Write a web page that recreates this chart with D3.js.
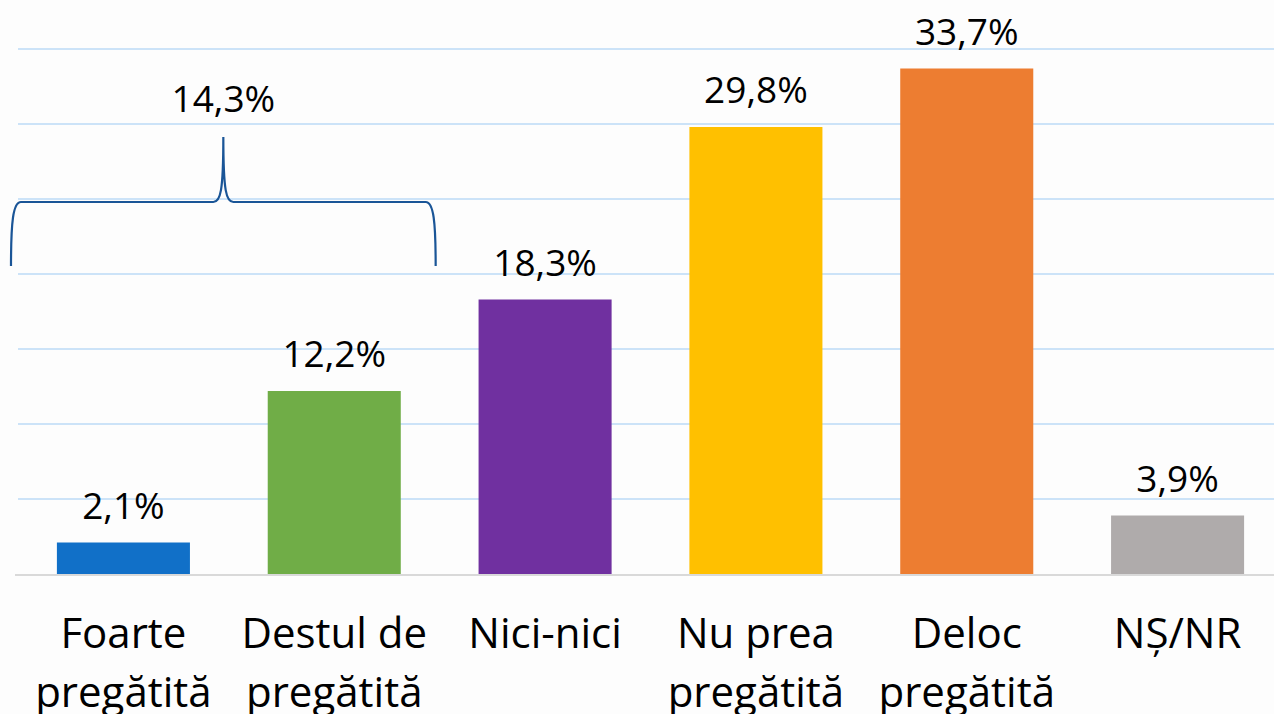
<!DOCTYPE html>
<html><head><meta charset="utf-8">
<script src="https://cdn.jsdelivr.net/npm/d3@7"></script>
<style>
html,body{margin:0;padding:0;background:#fdfdfd;overflow:hidden;}
svg{display:block;}
</style></head>
<body><svg id="c" width="1274" height="714"></svg>
<script>
const categories = [["Foarte","pregătită"],["Destul de","pregătită"],["Nici-nici"],["Nu prea","pregătită"],["Deloc","pregătită"],["NȘ/NR"]];
const values = [2.1, 12.2, 18.3, 29.8, 33.7, 3.9];
const colors = ["#1170c8","#70ad47","#7030a0","#ffc000","#ed7d31","#afabab"];
const gridTicks = [5,10,15,20,25,30,35];
const bracketLabel = "14,3%";
const fmt = v => v.toFixed(1).replace(".", ",") + "%";

const svg = d3.select("#c");
const keys = categories.map((c,i)=>i);
const x = d3.scaleBand().domain(keys).range([18, 1283]).paddingInner(0.369).paddingOuter(0.1845);
const y = d3.scaleLinear().domain([0, 35]).range([574, 49]);

// gridlines
svg.append("g").selectAll("line").data(gridTicks).join("line")
  .attr("x1", 18).attr("x2", 1274)
  .attr("y1", d=>y(d)).attr("y2", d=>y(d))
  .attr("stroke", "#cce3f8").attr("stroke-width", 2);

// bars
svg.append("g").selectAll("rect").data(values).join("rect")
  .attr("x", (d,i)=>x(i)).attr("width", x.bandwidth())
  .attr("y", d=>y(d)).attr("height", d=>y(0)-y(d))
  .attr("fill", (d,i)=>colors[i]);

// baseline
svg.append("line").attr("x1", 15).attr("x2", 1274).attr("y1", y(0)+1).attr("y2", y(0)+1)
  .attr("stroke", "#d9d9d9").attr("stroke-width", 2);

// value labels
svg.append("g").selectAll("text").data(values).join("text")
  .attr("x", (d,i)=>x(i)+x.bandwidth()/2).attr("y", d=>y(d)-24)
  .attr("text-anchor", "middle")
  .attr("font-family", "'Open Sans', sans-serif").attr("font-size", 37)
  .attr("fill", "#000").text(d=>fmt(d));

// category labels
const cl = svg.append("g").selectAll("text").data(categories).join("text")
  .attr("x", (d,i)=>x(i)+x.bandwidth()/2).attr("y", 648)
  .attr("text-anchor", "middle")
  .attr("font-family", "'Open Sans', sans-serif").attr("font-size", 42)
  .attr("fill", "#000");
cl.each(function(d,i){
  const t = d3.select(this);
  d.forEach((line,j)=>{
    t.append("tspan").attr("x", x(i)+x.bandwidth()/2).attr("dy", j===0?0:59).text(line);
  });
});

// bracket over first two categories
const bl = x(0) - (x.step()-x.bandwidth())/2 - 7;
const br = x(1) + x.bandwidth() + (x.step()-x.bandwidth())/2 - 4;
const bm = (bl + br)/2;
const yb = 266, yh = 202, yt = 137;
const p = d3.path();
p.moveTo(bl, yb);
p.bezierCurveTo(bl, yh+20, bl+2, yh, bl+10, yh);
p.lineTo(bm-10, yh);
p.bezierCurveTo(bm-3, yh, bm, yh-10, bm, yt);
p.bezierCurveTo(bm, yh-10, bm+3, yh, bm+10, yh);
p.lineTo(br-10, yh);
p.bezierCurveTo(br-2, yh, br, yh+20, br, yb);
svg.append("path").attr("d", p.toString()).attr("fill", "none")
  .attr("stroke", "#1a5597").attr("stroke-width", 2.2);

svg.append("text").attr("x", bm).attr("y", 112).attr("text-anchor", "middle")
  .attr("font-family", "'Open Sans', sans-serif").attr("font-size", 37)
  .attr("fill", "#000").text(bracketLabel);
</script></body></html>
